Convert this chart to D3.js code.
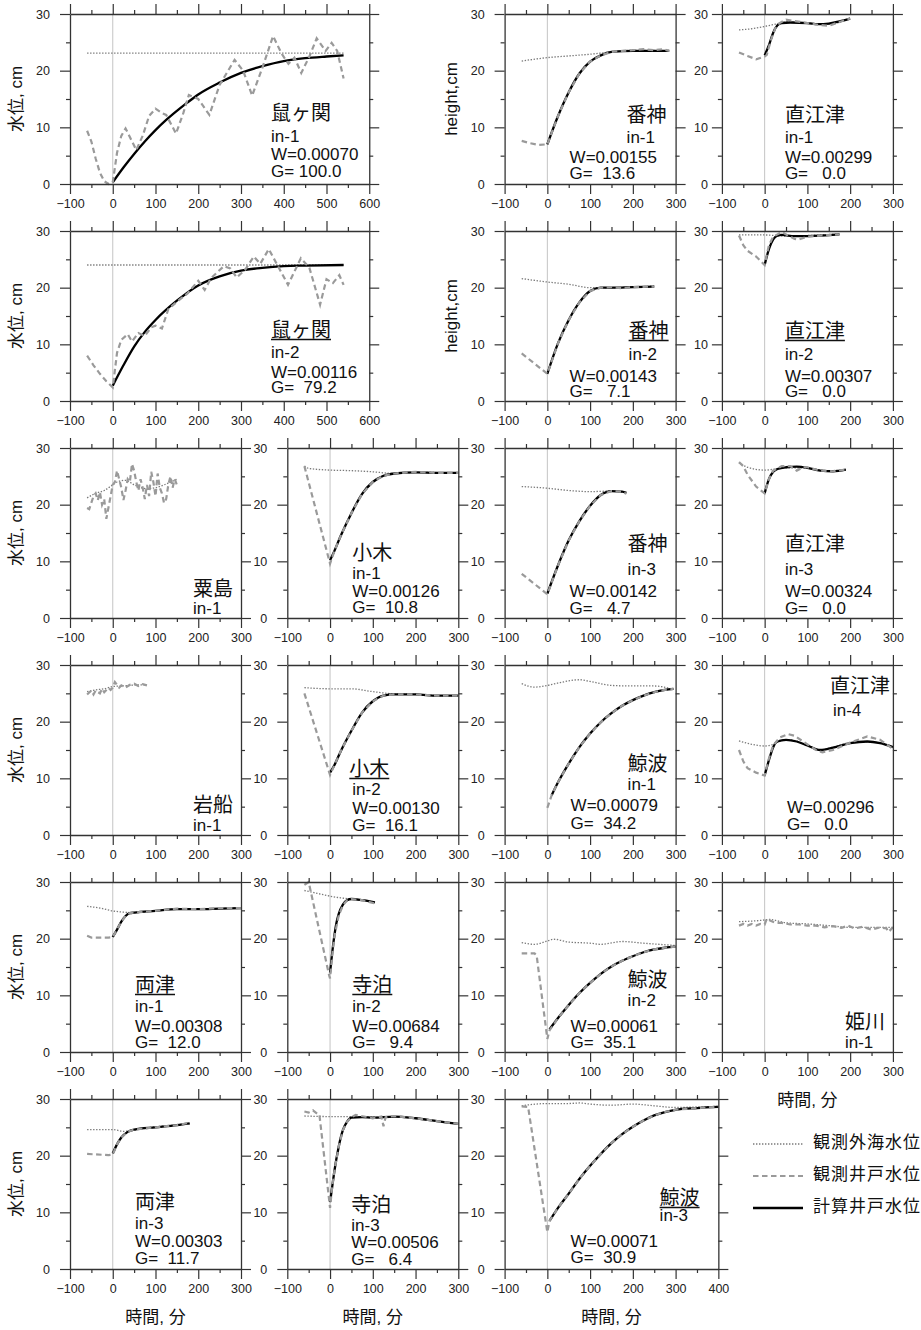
<!DOCTYPE html>
<html><head><meta charset="utf-8">
<script src="https://cdn.jsdelivr.net/npm/d3@7"></script>
<style>
body{margin:0;background:#fff}
svg{display:block;font-family:"Liberation Sans",Arial,"Noto Sans CJK JP",sans-serif}
</style></head><body>
<svg id="chart" width="921" height="1330"></svg>
<script>
// time (min) vs water level (cm); sea = 観測外海水位, well = 観測井戸水位, calc = 計算井戸水位
const nezu1Sea = [[-60,23.1],[540,23.1]];
const nezu1Well = [[-60,9.4],[-50,7.5],[-40,4.5],[-30,2.0],[-20,0.5],[-10,0.0],[0,0.3],[10,5.5],[20,8.5],[30,9.8],[40,8.3],[55,6.0],[70,8.5],[85,12.0],[100,13.3],[115,12.5],[125,12.2],[148,8.9],[165,12.5],[178,15.7],[200,15.0],[226,12.2],[250,17.5],[285,21.9],[305,20.0],[326,15.6],[350,20.5],[375,26.1],[395,23.0],[411,21.2],[425,22.3],[441,19.6],[460,22.5],[477,25.7],[498,23.5],[512,24.9],[525,23.5],[540,18.6]];
const nezu1Calc = [[0,0.3],[25,2.9],[50,5.3],[75,7.5],[100,9.5],[125,11.3],[150,12.9],[175,14.4],[200,15.8],[250,17.9],[300,19.6],[350,20.8],[400,21.7],[450,22.2],[500,22.5],[540,22.7]];

const nezu2Sea = [[-60,24.0],[540,24.0]];
const nezu2Well = [[-60,8.0],[-45,6.3],[-30,4.8],[-15,3.5],[0,2.4],[10,8.5],[20,10.8],[35,11.8],[45,10.5],[60,12.0],[75,11.5],[90,13.0],[100,13.3],[115,12.8],[130,16.2],[150,17.5],[175,19.0],[200,21.2],[215,19.6],[230,21.7],[260,23.8],[275,23.4],[290,21.8],[310,23.2],[330,25.5],[345,24.2],[365,26.8],[385,24.0],[410,20.5],[440,25.2],[460,23.5],[485,17.0],[500,21.5],[515,20.8],[530,22.2],[540,20.5]];
const nezu2Calc = [[0,2.7],[25,6.3],[50,9.6],[75,12.2],[100,14.3],[150,17.7],[200,20.4],[250,22.0],[300,23.0],[350,23.5],[400,23.8],[450,23.9],[540,24.0]];

const banjin1Sea = [[-60,21.7],[0,22.3],[50,22.6],[100,22.9],[150,23.3],[200,23.6],[285,23.5]];
const banjin1Well = [[-60,7.6],[-40,7.2],[-20,6.9],[0,7.0],[25,12.0],[50,16.2],[75,19.5],[100,21.6],[125,22.7],[150,23.3],[175,23.5],[200,23.6],[225,23.8],[250,23.6],[270,23.8],[285,23.5]];
const banjin1Calc = [[0,7.0],[25,12.0],[50,16.2],[75,19.5],[100,21.6],[125,22.7],[150,23.3],[200,23.5],[285,23.5]];

const naoe1Sea = [[-60,27.2],[-30,27.4],[0,27.8],[25,28.2],[50,28.6],[100,28.4],[150,28.2],[200,29.3]];
const naoe1Well = [[-60,23.2],[-40,22.6],[-20,22.0],[0,22.5],[5,22.8],[15,25.5],[25,27.5],[35,28.4],[50,29.0],[75,28.7],[100,28.4],[125,28.1],[150,27.9],[175,28.6],[200,29.2]];
const naoe1Calc = [[0,22.7],[10,24.5],[20,26.7],[30,28.0],[40,28.4],[60,28.5],[100,28.4],[125,28.2],[150,28.3],[175,28.7],[200,29.2]];

const banjin2Sea = [[-60,21.6],[0,21.0],[50,20.6],[100,20.0],[150,20.0],[200,20.1],[250,20.3]];
const banjin2Well = [[-60,8.4],[-30,6.6],[0,4.8],[25,10.2],[50,14.3],[75,17.4],[100,19.4],[125,20.0],[150,20.1],[175,19.9],[200,20.1],[250,20.2]];
const banjin2Calc = [[0,4.8],[25,10.2],[50,14.3],[75,17.4],[100,19.4],[125,20.0],[150,20.0],[200,20.1],[250,20.2]];

const naoe2Sea = [[-60,29.3],[0,29.3],[50,29.1],[100,29.2],[175,29.5]];
const naoe2Well = [[-60,29.2],[-50,27.5],[-40,26.5],[-20,25.5],[0,24.0],[10,27.5],[20,29.0],[30,29.4],[40,29.8],[60,29.0],[70,28.6],[80,28.5],[100,29.0],[130,29.2],[175,29.4]];
const naoe2Calc = [[0,24.0],[10,26.8],[20,28.5],[30,29.2],[40,29.3],[70,29.1],[100,29.1],[175,29.4]];

const awaSea = [[-60,21.2],[-40,22.0],[-20,22.5],[0,23.5],[10,24.0],[30,24.3],[50,23.5],[80,22.8],[100,23.0],[120,23.5],[150,24.5]];
const awaWell = [[-60,19.4],[-55,19.2],[-45,21.5],[-40,22.0],[-35,20.8],[-30,22.2],[-25,20.0],[-20,21.0],[-15,17.5],[-10,19.5],[-5,21.5],[0,23.5],[5,24.0],[10,26.0],[15,24.5],[20,23.0],[25,20.8],[30,22.5],[35,24.5],[40,24.0],[45,27.2],[50,26.0],[55,24.0],[60,22.5],[65,24.5],[70,23.0],[75,21.0],[80,23.5],[85,21.5],[90,25.8],[95,24.0],[100,21.5],[105,25.5],[110,23.0],[115,22.0],[120,20.3],[125,21.0],[130,23.5],[135,25.0],[140,23.0],[145,24.5],[150,23.5]];

const ogi1Sea = [[-60,26.8],[-50,26.4],[0,26.1],[50,26.0],[100,25.8],[150,25.5],[200,25.7],[300,25.6]];
const ogi1Well = [[-60,26.8],[0,9.6],[10,11.8],[25,14.5],[50,18.5],[75,21.9],[100,24.0],[125,25.1],[150,25.5],[200,25.8],[250,25.6],[300,25.6]];
const ogi1Calc = [[0,10.2],[10,11.8],[25,14.5],[50,18.5],[75,21.9],[100,24.0],[125,25.1],[150,25.5],[200,25.7],[250,25.6],[300,25.6]];

const banjin3Sea = [[-60,23.2],[0,22.9],[50,22.5],[100,22.3],[150,22.4],[185,22.1]];
const banjin3Well = [[-60,7.8],[-30,6.0],[0,4.2],[25,9.3],[50,13.7],[75,17.1],[100,19.8],[125,21.7],[150,22.4],[175,22.3],[185,21.9]];
const banjin3Calc = [[0,4.3],[25,9.3],[50,13.7],[75,17.1],[100,19.8],[125,21.7],[150,22.4],[175,22.3],[185,22.1]];

const naoe3Sea = [[-60,27.4],[-40,26.6],[0,26.1],[50,26.5],[100,26.4],[150,26.0],[190,26.2]];
const naoe3Well = [[-60,27.5],[-50,26.8],[-40,25.3],[-20,23.2],[0,22.0],[10,24.5],[20,26.0],[40,26.8],[60,26.8],[75,26.0],[90,26.6],[100,26.6],[130,26.0],[160,25.9],[190,26.2]];
const naoe3Calc = [[0,22.0],[10,24.5],[20,25.8],[30,26.3],[50,26.6],[75,26.7],[100,26.5],[130,26.0],[160,25.9],[190,26.2]];

const iwafuneSea = [[-60,25.3],[-40,25.6],[-20,25.8],[0,26.2],[20,26.3],[40,26.4],[60,26.5],[80,26.5]];
const iwafuneWell = [[-60,24.8],[-50,25.5],[-45,24.8],[-40,25.5],[-30,25.0],[-25,25.8],[-20,25.2],[-10,26.0],[-5,25.6],[0,26.0],[5,27.0],[10,26.5],[15,26.0],[20,26.4],[30,26.0],[40,26.5],[50,26.7],[60,26.3],[70,26.6],[80,26.4]];

const ogi2Sea = [[-60,26.0],[0,25.8],[50,25.8],[100,25.3],[150,24.9],[200,24.8],[250,24.6],[300,24.6]];
const ogi2Well = [[-60,25.0],[0,10.6],[10,12.3],[25,14.8],[50,18.4],[75,21.6],[100,23.6],[125,24.6],[150,24.8],[200,24.8],[250,24.6],[300,24.6]];
const ogi2Calc = [[0,11.0],[10,12.3],[25,14.8],[50,18.4],[75,21.6],[100,23.6],[125,24.6],[150,24.8],[200,24.8],[250,24.6],[300,24.6]];

const kujira1Sea = [[-60,26.7],[-30,26.1],[0,26.4],[30,26.9],[75,27.4],[100,27.1],[150,26.4],[200,26.3],[250,26.3],[295,25.7]];
const kujira1Well = [[0,4.8],[10,7.0],[25,9.3],[50,12.6],[75,15.5],[100,17.9],[125,19.9],[150,21.5],[175,22.8],[200,23.8],[225,24.6],[250,25.2],[275,25.6],[295,25.8]];
const kujira1Calc = [[10,7.0],[25,9.3],[50,12.6],[75,15.5],[100,17.9],[125,19.9],[150,21.5],[175,22.8],[200,23.8],[225,24.6],[250,25.2],[275,25.6],[295,25.8]];

const naoe4Sea = [[-60,16.6],[-30,16.0],[0,15.7],[20,16.0],[40,16.8],[60,16.8],[100,15.8],[130,15.0],[160,15.5],[200,16.3],[250,16.4],[300,15.6]];
const naoe4Well = [[-60,15.0],[-50,13.0],[-40,11.8],[-20,11.0],[0,10.5],[10,13.5],[20,15.8],[35,17.2],[55,17.8],[70,17.5],[100,16.0],[120,15.0],[135,14.6],[160,15.0],[200,16.3],[240,17.4],[270,16.8],[300,15.2]];
const naoe4Calc = [[0,10.5],[10,13.2],[20,15.5],[30,16.5],[50,16.8],[75,16.5],[100,15.8],[130,15.0],[160,15.4],[200,16.2],[240,16.5],[270,16.2],[300,15.5]];

const ryotsu1Sea = [[-60,25.7],[-30,25.4],[0,24.9],[50,24.6],[100,24.9],[150,25.2],[200,25.2],[250,25.3],[300,25.4]];
const ryotsu1Well = [[-60,20.5],[-50,20.2],[-10,20.2],[0,20.3],[10,21.6],[20,23.0],[30,24.0],[40,24.5],[50,24.6],[100,24.9],[150,25.3],[200,25.2],[250,25.4],[300,25.4]];
const ryotsu1Calc = [[0,20.3],[10,21.6],[20,23.0],[30,24.0],[40,24.5],[50,24.6],[100,24.9],[150,25.2],[200,25.2],[250,25.3],[300,25.4]];

const tera2Sea = [[-60,28.5],[-30,28.0],[0,27.5],[25,27.2],[50,27.0],[75,26.8],[105,26.4]];
const tera2Well = [[-60,29.5],[-50,30.0],[-2,13.5],[0,13.0],[5,17.0],[10,20.3],[20,24.0],[30,25.9],[40,26.8],[50,27.0],[75,26.8],[105,26.2]];
const tera2Calc = [[0,14.0],[5,17.5],[10,20.5],[15,22.8],[20,24.3],[30,26.0],[40,26.8],[50,27.0],[75,26.8],[105,26.4]];

const kujira2Sea = [[-60,19.3],[-30,19.0],[0,19.6],[15,19.9],[50,19.4],[100,19.2],[125,19.0],[175,19.5],[225,19.2],[300,18.8]];
const kujira2Well = [[-60,17.4],[-30,17.4],[-25,17.0],[0,2.3],[5,3.8],[25,6.0],[50,8.3],[75,10.4],[100,12.2],[125,13.8],[150,15.1],[175,16.1],[200,16.9],[225,17.6],[250,18.1],[275,18.4],[300,18.6]];
const kujira2Calc = [[5,4.0],[25,6.0],[50,8.3],[75,10.4],[100,12.2],[125,13.8],[150,15.1],[175,16.1],[200,16.9],[225,17.6],[250,18.1],[275,18.4],[300,18.6]];

const himeSea = [[-60,23.0],[0,23.3],[10,23.4],[50,22.8],[100,22.6],[150,22.3],[200,22.0],[250,22.0],[300,22.0]];
const himeWell = [[-60,22.3],[-50,22.6],[-40,22.3],[-30,22.6],[-20,22.3],[-10,22.6],[0,22.5],[5,23.5],[15,23.1],[25,22.8],[40,22.8],[60,22.5],[80,22.5],[100,22.3],[120,22.3],[140,22.0],[160,22.2],[180,21.9],[195,22.3],[210,21.8],[230,22.1],[250,21.6],[270,22.0],[285,21.8],[290,21.2],[300,22.0]];

const ryotsu3Sea = [[-60,24.6],[0,24.6],[25,24.3],[50,24.5],[100,25.1],[150,25.4],[180,25.6]];
const ryotsu3Well = [[-60,20.3],[-10,20.1],[0,20.2],[10,22.0],[20,23.2],[35,24.2],[50,24.6],[100,25.0],[150,25.4],[180,25.8]];
const ryotsu3Calc = [[0,20.4],[10,22.0],[20,23.2],[35,24.2],[50,24.6],[100,25.0],[150,25.4],[180,25.7]];

const tera3Sea = [[-60,27.0],[0,26.9],[50,26.9],[100,26.8],[150,26.9],[200,26.6],[250,26.1],[300,25.6]];
const tera3Well = [[-60,27.8],[-50,27.6],[-40,28.0],[-30,27.4],[-25,27.3],[0,10.8],[5,14.5],[10,17.2],[20,21.5],[30,24.5],[40,26.0],[50,26.8],[60,27.2],[100,26.6],[120,26.9],[125,25.2],[130,26.8],[150,27.0],[200,26.6],[250,26.1],[300,25.6]];
const tera3Calc = [[0,11.8],[5,14.5],[10,17.2],[20,21.5],[30,24.5],[40,26.0],[50,26.7],[75,26.8],[100,26.7],[150,26.9],[200,26.6],[250,26.1],[300,25.6]];

const kujira3Sea = [[-60,28.8],[-40,29.0],[0,29.2],[50,29.2],[75,29.3],[100,29.1],[150,28.9],[200,29.1],[250,28.8],[300,28.5],[350,28.6],[400,28.7]];
const kujira3Well = [[-60,28.7],[-45,28.6],[0,6.5],[5,8.5],[25,10.8],[50,13.3],[75,15.9],[100,18.2],[125,20.3],[150,22.2],[175,23.8],[200,25.1],[225,26.2],[250,27.1],[275,27.7],[300,28.1],[350,28.4],[400,28.6]];
const kujira3Calc = [[5,8.5],[25,10.8],[50,13.3],[75,15.9],[100,18.2],[125,20.3],[150,22.2],[175,23.8],[200,25.1],[225,26.2],[250,27.1],[275,27.7],[300,28.1],[350,28.4],[400,28.6]];

const panels = [
  {name:"鼠ヶ関", run:"in-1", W:0.00070, G:100.0, xMax:600, sea:nezu1Sea, well:nezu1Well, calc:nezu1Calc},
  {name:"番神", run:"in-1", W:0.00155, G:13.6, xMax:300, sea:banjin1Sea, well:banjin1Well, calc:banjin1Calc},
  {name:"直江津", run:"in-1", W:0.00299, G:0.0, xMax:300, sea:naoe1Sea, well:naoe1Well, calc:naoe1Calc},
  {name:"鼠ヶ関", run:"in-2", W:0.00116, G:79.2, xMax:600, sea:nezu2Sea, well:nezu2Well, calc:nezu2Calc},
  {name:"番神", run:"in-2", W:0.00143, G:7.1, xMax:300, sea:banjin2Sea, well:banjin2Well, calc:banjin2Calc},
  {name:"直江津", run:"in-2", W:0.00307, G:0.0, xMax:300, sea:naoe2Sea, well:naoe2Well, calc:naoe2Calc},
  {name:"粟島", run:"in-1", xMax:300, sea:awaSea, well:awaWell},
  {name:"小木", run:"in-1", W:0.00126, G:10.8, xMax:300, sea:ogi1Sea, well:ogi1Well, calc:ogi1Calc},
  {name:"番神", run:"in-3", W:0.00142, G:4.7, xMax:300, sea:banjin3Sea, well:banjin3Well, calc:banjin3Calc},
  {name:"直江津", run:"in-3", W:0.00324, G:0.0, xMax:300, sea:naoe3Sea, well:naoe3Well, calc:naoe3Calc},
  {name:"岩船", run:"in-1", xMax:300, sea:iwafuneSea, well:iwafuneWell},
  {name:"小木", run:"in-2", W:0.00130, G:16.1, xMax:300, sea:ogi2Sea, well:ogi2Well, calc:ogi2Calc},
  {name:"鯨波", run:"in-1", W:0.00079, G:34.2, xMax:300, sea:kujira1Sea, well:kujira1Well, calc:kujira1Calc},
  {name:"直江津", run:"in-4", W:0.00296, G:0.0, xMax:300, sea:naoe4Sea, well:naoe4Well, calc:naoe4Calc},
  {name:"両津", run:"in-1", W:0.00308, G:12.0, xMax:300, sea:ryotsu1Sea, well:ryotsu1Well, calc:ryotsu1Calc},
  {name:"寺泊", run:"in-2", W:0.00684, G:9.4, xMax:300, sea:tera2Sea, well:tera2Well, calc:tera2Calc},
  {name:"鯨波", run:"in-2", W:0.00061, G:35.1, xMax:300, sea:kujira2Sea, well:kujira2Well, calc:kujira2Calc},
  {name:"姫川", run:"in-1", xMax:300, sea:himeSea, well:himeWell},
  {name:"両津", run:"in-3", W:0.00303, G:11.7, xMax:300, sea:ryotsu3Sea, well:ryotsu3Well, calc:ryotsu3Calc},
  {name:"寺泊", run:"in-3", W:0.00506, G:6.4, xMax:300, sea:tera3Sea, well:tera3Well, calc:tera3Calc},
  {name:"鯨波", run:"in-3", W:0.00071, G:30.9, xMax:400, sea:kujira3Sea, well:kujira3Well, calc:kujira3Calc}
];

const legendLabels = ["観測外海水位", "観測井戸水位", "計算井戸水位"];

// placement: grid cell, underline flag, axis titles, note offsets [nameX,nameY,runX,runY,wgX,wY,gY]
const layout = [
  {row:0,col:0,ylab:"水位, cm",note:[201,106,201,128,201,146,163]},
  {row:0,col:2,ylab:"height,cm",note:[122,108,122,129,65,149,165]},
  {row:0,col:3,note:[63,108,63,129,63,149,165]},
  {row:1,col:0,ul:true,ylab:"水位, cm",note:[201,106,201,127,201,147,162]},
  {row:1,col:2,ul:true,ylab:"height,cm",note:[124,107,124,129,65,151,166]},
  {row:1,col:3,ul:true,note:[63,107,63,129,63,151,166]},
  {row:2,col:0,ylab:"水位, cm",note:[123,148,123,166]},
  {row:2,col:1,note:[65,112,65,131,65,149,165]},
  {row:2,col:2,note:[123,103,123,127,65,149,166]},
  {row:2,col:3,note:[63,103,63,127,63,149,166]},
  {row:3,col:0,ylab:"水位, cm",note:[123,147,123,166]},
  {row:3,col:1,ul:true,note:[62,111,65,130,65,149,166]},
  {row:3,col:2,note:[123,106,123,125,66,146,164]},
  {row:3,col:3,note:[108,28,111,51,65,148,165]},
  {row:4,col:0,ul:true,ylab:"水位, cm",note:[65,110,65,130,65,150,166]},
  {row:4,col:1,ul:true,note:[65,110,65,130,65,150,166]},
  {row:4,col:2,note:[123,105,123,124,66,150,166]},
  {row:4,col:3,xlab:true,note:[123,147,123,166]},
  {row:5,col:0,xlab:true,ylab:"水位, cm",note:[65,110,65,130,65,148,165]},
  {row:5,col:1,xlab:true,note:[64,113,64,132,64,149,166]},
  {row:5,col:2,xlab:true,ul:true,note:[155,106,155,122,66,148,164]}
];

const seriesStyle = {
  sea: {stroke:"#7a7a7a", width:1.3, dash:"1.4,1.6"},
  calc: {stroke:"#000", width:2.3, dash:null},
  well: {stroke:"#9a9a9a", width:2.2, dash:"5.5,3.5"}
};

const svg = d3.select("#chart");
const pxPerMin = 171 / 400, plotH = 170;
const colX = c => 70 + c * 217.3;
const rowY = r => 14 + r * 217;
const smooth = d3.line().curve(d3.curveMonotoneX);
const straight = d3.line();

panels.forEach((p, i) => {
  const L = layout[i];
  const xMin = -100, xMax = p.xMax;
  const w = (xMax - xMin) * pxPerMin;
  const x = d3.scaleLinear([xMin, xMax], [0, w]);
  const y = d3.scaleLinear([0, 30], [plotH, 0]);
  const g = svg.append("g").attr("transform", `translate(${colX(L.col)},${rowY(L.row)})`);

  // t = 0 reference line
  g.append("line")
    .attr("x1", x(0)).attr("x2", x(0))
    .attr("y1", 0).attr("y2", plotH)
    .attr("stroke", "#c4c4c4").attr("stroke-width", 1);

  ["sea", "calc", "well"].forEach(k => {
    if (!p[k]) return;
    const s = seriesStyle[k];
    const gen = (k === "well" ? straight : smooth).x(d => x(d[0])).y(d => y(d[1]));
    g.append("path")
      .datum(p[k])
      .attr("d", gen)
      .attr("fill", "none")
      .attr("stroke", s.stroke)
      .attr("stroke-width", s.width)
      .attr("stroke-dasharray", s.dash);
  });

  // frame axes with major and minor ticks on all four sides
  const majorX = d3.range(xMin, xMax + 1, 100), minorX = d3.range(xMin + 50, xMax, 100);
  const majorY = [0, 10, 20, 30], minorY = [5, 15, 25];
  const axes = [
    [d3.axisBottom(x).tickValues(majorX).tickPadding(5).tickFormat(d3.format("d")), `translate(0,${plotH})`, true],
    [d3.axisBottom(x).tickValues(minorX).tickFormat(""), `translate(0,${plotH})`, false],
    [d3.axisTop(x).tickValues(majorX).tickFormat(""), null, true],
    [d3.axisTop(x).tickValues(minorX).tickFormat(""), null, false],
    [d3.axisLeft(y).tickValues(majorY).tickPadding(L.col === 3 ? 4 : 10).tickFormat(d3.format("d")), null, true],
    [d3.axisLeft(y).tickValues(minorY).tickFormat(""), null, false],
    [d3.axisRight(y).tickValues(majorY).tickFormat(""), `translate(${w},0)`, true],
    [d3.axisRight(y).tickValues(minorY).tickFormat(""), `translate(${w},0)`, false]
  ];
  axes.forEach(([gen, tr, major]) => {
    const a = g.append("g").attr("transform", tr)
      .call(gen.tickSize(major ? 10 : 4).tickSizeOuter(0));
    a.attr("color", "#333").attr("font-size", 12.5).attr("font-family", null);
    a.selectAll("line").attr("stroke-width", 1.2);
    a.select(".domain").attr("stroke-width", 1.3);
    a.selectAll("text").attr("fill", "#222");
    if (!major) a.select(".domain").remove();
  });

  // station annotation
  const n = L.note;
  const txt = (tx, ty, s, size) => g.append("text")
    .attr("x", tx).attr("y", ty)
    .attr("font-size", size).attr("fill", "#111")
    .style("white-space", "pre").text(s);
  const nm = txt(n[0], n[1], p.name, 20).attr("font-family", "'Noto Sans CJK JP', sans-serif");
  if (L.ul) {
    const len = nm.node().getComputedTextLength();
    g.append("line")
      .attr("x1", n[0]).attr("x2", n[0] + len)
      .attr("y1", n[1] + 2.5).attr("y2", n[1] + 2.5)
      .attr("stroke", "#111").attr("stroke-width", 1.4);
  }
  txt(n[2], n[3], p.run, 17);
  if (p.W != null) {
    txt(n[4], n[5], "W=" + p.W.toFixed(5), 17);
    txt(n[4], n[6], "G=" + p.G.toFixed(1).padStart(6), 17);
  }

  if (L.ylab) {
    g.append("text")
      .attr("transform", `translate(-52,${plotH / 2}) rotate(-90)`)
      .attr("text-anchor", "middle").attr("dominant-baseline", "middle")
      .attr("font-size", 17).attr("fill", "#111")
      .text(L.ylab);
  }
  if (L.xlab) {
    g.append("text")
      .attr("x", w / 2).attr("y", plotH + 54)
      .attr("text-anchor", "middle")
      .attr("font-size", 17).attr("fill", "#111")
      .text("時間, 分");
  }
});

// legend
const legend = svg.append("g").attr("transform", "translate(753,1144)");
["sea", "well", "calc"].forEach((k, i) => {
  const s = seriesStyle[k];
  legend.append("line")
    .attr("x1", 0).attr("x2", 50)
    .attr("y1", i * 32).attr("y2", i * 32)
    .attr("stroke", s.stroke).attr("stroke-width", s.width)
    .attr("stroke-dasharray", s.dash);
  legend.append("text")
    .attr("x", 60).attr("y", i * 32)
    .attr("dominant-baseline", "middle")
    .attr("font-size", 17).attr("fill", "#111")
    .attr("letter-spacing", 1)
    .text(legendLabels[i]);
});
</script>
</body></html>
